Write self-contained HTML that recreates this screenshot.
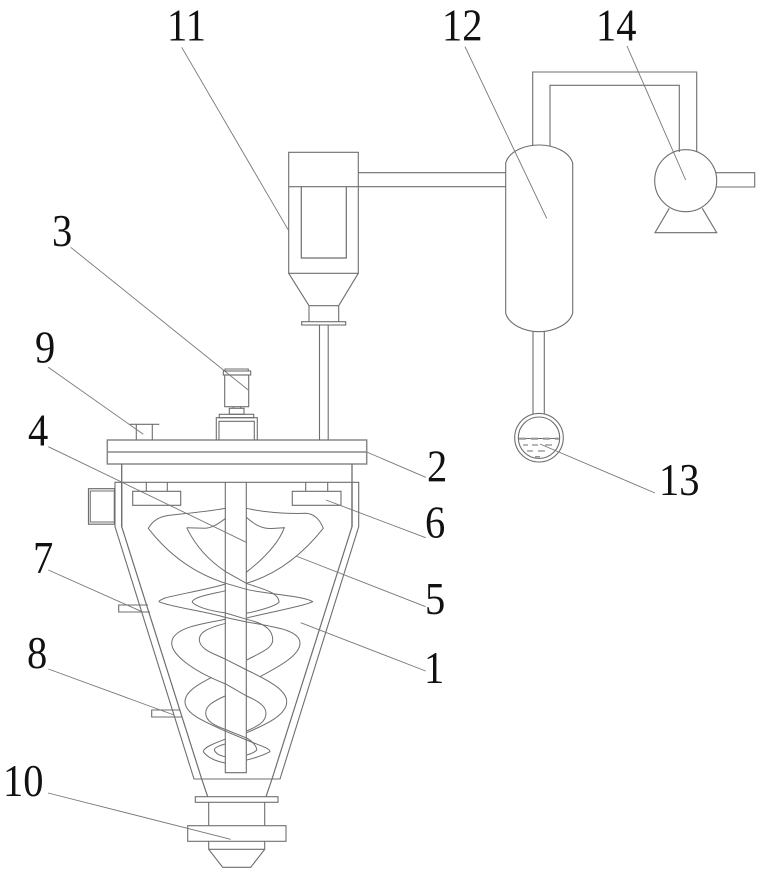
<!DOCTYPE html>
<html>
<head>
<meta charset="utf-8">
<style>
html,body{margin:0;padding:0;background:#fff;}
svg{display:block;}
text{font-family:"Liberation Serif",serif;font-size:45px;fill:#111;}
</style>
</head>
<body>
<svg width="761" height="875" viewBox="0 0 761 875" xmlns="http://www.w3.org/2000/svg">
<rect width="761" height="875" fill="#fff"/>
<g fill="none" stroke="#6e6e6e" stroke-width="1.1">
<!-- top plate -->
<path d="M107.3 440H366.7V464H107.3ZM107.3 452H366.7" stroke-width="1.5" stroke="#888"/>
<path d="M121.7 464V526.7M352 464V526.7" stroke-width="1.3"/>
<!-- body -->
<path d="M115 482.3H358.7V526.7L280 779H194L115 526.7Z"/>
<path d="M121.7 482.3V526.7L201.7 779L207.7 796.7M352 482.3V526.7L272 779L266 796.7" stroke-width="1.2"/>
<!-- shaft -->
<path d="M225.3 482.3V772.7H246.3V482.3"/>
<!-- blocks -->
<path d="M146.3 482.3V491.3M167.3 482.3V491.3M132.7 491.3H180.7V505.3H132.7ZM305.7 482.3V491.3M327.7 482.3V491.3M292.3 491.3H341V505.3H292.3Z"/>
<!-- side box -->
<rect x="88.5" y="488.7" width="26" height="35.5" stroke-width="1.2"/>
<rect x="90.3" y="491" width="24" height="31" stroke-width="1"/>
<!-- ports -->
<path d="M148 605H118.7V612H150"/>
<path d="M180 710H151.7V717H182"/>
<!-- bottom outlet -->
<rect x="195.3" y="796.7" width="82.7" height="5.6"/>
<path d="M208.7 802.3V825.7M264.7 802.3V825.7"/>
<rect x="187.7" y="825.7" width="98.3" height="15.6"/>
<path d="M208.7 841.3V849.3L222.7 867.3H250.7L264.7 849.3V841.3M208.7 849.3H264.7"/>
<!-- port 9 -->
<path d="M130 424.3H159.3M136.3 424.3V440M152.3 424.3V440"/>
<!-- motor -->
<path d="M225 371V369H248.3V371"/>
<rect x="223.3" y="371" width="27.4" height="4"/>
<rect x="224.7" y="375" width="24" height="31.7"/>
<path d="M233.3 406.7V408.3M240.7 406.7V408.3"/>
<rect x="229.3" y="408.3" width="14.7" height="6"/>
<rect x="219.3" y="414.3" width="34.4" height="3.4"/>
<path d="M216.3 440V417.7H257.3V440M219 440V421.3H254.3V440"/>
<!-- vertical pipe -->
<path d="M319.5 325V440M328.2 325V440"/>
<!-- cyclone -->
<path d="M288.7 152.3H358.3V273.3H288.7ZM288.7 186.7H505.7M358.3 172.7H505.7"/>
<path d="M301.3 186.7V258H346.3V186.7" stroke-width="1.2"/>
<path d="M288.7 273.3L309 305.7H338.7L358.3 273.3M309 305.7V321.7M338.7 305.7V321.7"/>
<rect x="301.7" y="321.7" width="44" height="3.3"/>
<!-- tank -->
<path d="M505.7 163C509 151,525 145,539 145C553 145,569 151,572.7 163V313.3C569 325,553 331.7,539 331.7C525 331.7,509 325,505.7 313.3Z"/>
<!-- top pipe -->
<path d="M532.7 146V72H696.7V152M550 146V85.3H679.3V152" />
<!-- pump -->
<circle cx="685.7" cy="180.7" r="31"/>
<path d="M716 172.7H754.7V187H716"/>
<path d="M669.3 208.3L655 232.7H716.7L702.3 208.3"/>
<!-- condensate -->
<path d="M533 331.7V414M544.3 331.7V414"/>
<circle cx="539" cy="437.7" r="24.3"/>
<circle cx="539" cy="437.7" r="20.7"/>
<path d="M518.4 438.5H559.6" stroke-width="1"/>
<path d="M519 438.7H559" stroke-width="2.2" stroke-dasharray="7 5" stroke="#999"/>
<path d="M523 445H528M532 445H538M545 445H552M527 451H533M538 451H545M535 456.7H540" stroke-width="1"/>
<!-- helix -->
<g stroke-width="1">
<path d="M225.7 508.3C205 512,180 514,172 515C160 516,153 520,148.3 528.3C165 550,190 572,225.7 583.3L246.3 589.3C265 594,305 596,312.7 601.7C305 606,270 612,246.7 618"/>
<path d="M186.7 527.7C195 545,208 560,225.7 571.7L246.3 583.3C262 589,279 592,279 602.3C275 606,262 610,246.7 613.3"/>
<path d="M225.7 518.3C218 524,212 528,205 528.3L186.7 527.7"/>
<path d="M246.3 508.3C262 512,285 514,306 513.3C315 514,320 520,323.3 528.3C310 545,285 572,246.3 583.3"/>
<path d="M246.3 517.3C255 525,262 529,272 528.5L284.3 527.7C278 545,262 560,246.3 572.3"/>
<path d="M225.7 584C205 590,175 595,165 598C160 600,159 601,159 601.7C170 607,205 611,225.7 617.5L246.7 622C275 627,300 630,300 643.3C300 655,280 666,260 676.7"/>
<path d="M225.7 590.7C212 594,192 597,192.3 602.3C198 608,212 611,225.7 613L246.7 619.3C262 623,272.7 628,272.7 640C272.7 648,262 652,246.7 660"/>
<path d="M225.7 619.3C200 624,171.7 628,171.7 643.3C172 654,190 670,225.7 684L246.7 696C258 701,266 706,266 713.3C266 722,258 726,246.7 731"/>
<path d="M225.7 623.3C208 628,199 632,199.3 640C200 650,215 654,225.7 659.3L246.7 670C268 680,286.7 690,286.7 701.7C286.7 716,262 726,246.7 732.7"/>
<path d="M211.7 677.3C197 685,185 692,185 701.7C185 714,205 722,226.7 731.7L246.7 740C258 745,270 748,270 751.7C262 756,255 758,246.7 760"/>
<path d="M225 696C212 702,205.7 706,205.7 713.3C206 722,216 726,226.7 730L247.3 738.3C252 741,256.7 746,256.7 750C254 753,250 754,246.7 755"/>
<path d="M225 739.3C212 744,203.3 748,203.3 751.7C207 757,215 761,225 763"/>
<path d="M225 744C218 746,214.3 748,214.3 750C216 754,220 755.5,225 756.7"/>
</g>
<!-- leaders -->
<g stroke="#777" stroke-width="0.9">
<path d="M181.7 47.3L288.7 230.7"/>
<path d="M465 46.7L546.7 218.3"/>
<path d="M627 46L685.7 180"/>
<path d="M70.7 247.3L248.3 390"/>
<path d="M48.3 367.3L143.3 434.3"/>
<path d="M48.3 446.7L246.3 542.3"/>
<path d="M48.3 570L142 611.7"/>
<path d="M48.3 669L174 715"/>
<path d="M48 793L230.7 839.3"/>
<path d="M366.7 452L425.7 477.3"/>
<path d="M326 500L425.7 537.7"/>
<path d="M296 556L425.7 606.7"/>
<path d="M300.7 622.7L425.7 671"/>
<path d="M540 444L655 493"/>
</g>
</g>
<g>
<text transform="translate(167,40.7) scale(.9,1)">11</text>
<text transform="translate(442,40.7) scale(.9,1)">12</text>
<text transform="translate(596,40.7) scale(.9,1)">14</text>
<text transform="translate(52,246) scale(.9,1)">3</text>
<text transform="translate(35,362.7) scale(.9,1)">9</text>
<text transform="translate(28,445.7) scale(.9,1)">4</text>
<text transform="translate(33,573) scale(.9,1)">7</text>
<text transform="translate(27,668) scale(.9,1)">8</text>
<text transform="translate(3,796) scale(.9,1)">10</text>
<text transform="translate(427,481.7) scale(.9,1)">2</text>
<text transform="translate(425,537.7) scale(.9,1)">6</text>
<text transform="translate(425,614) scale(.9,1)">5</text>
<text transform="translate(424,683) scale(.9,1)">1</text>
<text transform="translate(659,495) scale(.9,1)">13</text>
</g>
</svg>
</body>
</html>
